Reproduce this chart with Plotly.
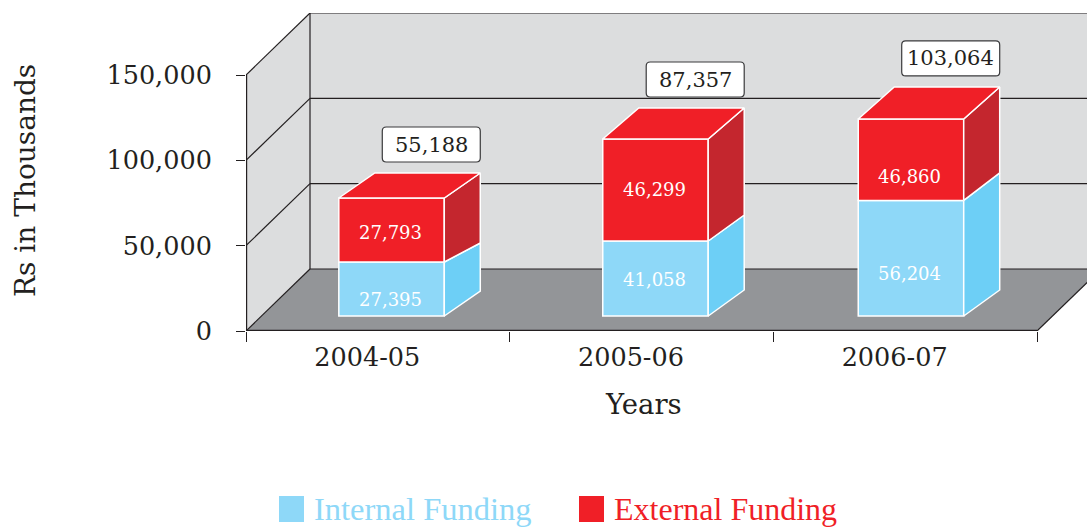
import plotly.graph_objects as go

years = ["2004-05", "2005-06", "2006-07"]
internal_labels = ["27,395", "41,058", "56,204"]
external_labels = ["27,793", "46,299", "46,860"]
total_labels = ["55,188", "87,357", "103,064"]

# segment heights as drawn against the axis (the artwork is not quite to scale)
internal_drawn = [31640, 43945, 67700]
external_drawn = [37500, 59770, 47750]

# how far the back edge of each box rises above its front edge
top_rise = [14650, 18160, 18750]
split_rise = [11130, 15240, 16110]
base_rise = [14650, 15240, 15240]

y_ticks = [0, 50000, 100000, 150000]

LIGHT, LIGHT_SIDE = "#8ed8f8", "#6dcff6"
RED, RED_SIDE = "#f01f27", "#c4262e"
WALL, FLOOR, INK = "#dcddde", "#939598", "#231f20"
SERIF = "DejaVu Serif"

# 1 category = 263.67 px, 150,000 = 256 px
UNIT_X = 263.67
UNIT_Y = 150000 / 256
X_MAX = 841 / UNIT_X
Y_MAX = 318 * UNIT_Y
BAR_BASE = 15 * UNIT_Y
BAR_X = [0.552, 1.553, 2.522]
BAR_W = 0.40
BOX_DX = 36 / UNIT_X
WALL_DX = 64 / UNIT_X
WALL_DY = 62 * UNIT_Y
N_CATS = 3

# label heights above the box base, px
EXTERNAL_LABEL_UP = [84, 127, 140]
INTERNAL_LABEL_UP = [17, 37, 43]


def poly(points):
    return "M " + " L ".join(f"{x},{y}" for x, y in points) + " Z"


def face(xs, ys, color):
    return go.Scatter(x=xs + xs[:1], y=ys + ys[:1], mode="lines", fill="toself",
                      fillcolor=color, line=dict(color="white", width=1.5),
                      hoverinfo="skip", showlegend=False)


def rounded_box(x0, x1, y0, y1, r=4):
    rx, ry = r / UNIT_X, r * UNIT_Y
    return (f"M {x0 + rx},{y0} L {x1 - rx},{y0} Q {x1},{y0} {x1},{y0 + ry} "
            f"L {x1},{y1 - ry} Q {x1},{y1} {x1 - rx},{y1} L {x0 + rx},{y1} "
            f"Q {x0},{y1} {x0},{y1 - ry} L {x0},{y0 + ry} Q {x0},{y0} {x0 + rx},{y0} Z")


def page_x(px):
    return (px - 246) / 841


def page_y(px):
    return (331 - px) / 318


fig = go.Figure()

# walls and floor
shapes = [
    dict(type="path", path=poly([(0, 0), (WALL_DX, WALL_DY), (WALL_DX, 150000 + WALL_DY), (0, 150000)]),
         fillcolor=WALL, line=dict(width=0), layer="below"),
    dict(type="rect", x0=WALL_DX, x1=X_MAX, y0=WALL_DY, y1=150000 + WALL_DY,
         fillcolor=WALL, line=dict(width=0), layer="below"),
    dict(type="path", path=poly([(0, 0), (WALL_DX, WALL_DY), (N_CATS + WALL_DX, WALL_DY), (N_CATS, 0)]),
         fillcolor=FLOOR, line=dict(width=0), layer="below"),
]
for t in y_ticks:
    shapes.append(dict(type="line", x0=0, y0=t, x1=WALL_DX, y1=t + WALL_DY,
                       line=dict(color=INK, width=1.2), layer="below"))
    shapes.append(dict(type="line", x0=WALL_DX, y0=t + WALL_DY, x1=X_MAX, y1=t + WALL_DY,
                       line=dict(color=INK, width=1.2), layer="below"))
shapes.append(dict(type="line", x0=WALL_DX, y0=WALL_DY, x1=WALL_DX, y1=150000 + WALL_DY,
                   line=dict(color=INK, width=1.2), layer="below"))
# these two sit on the plot edge and lose half their width to clipping
shapes.append(dict(type="line", x0=0, y0=0, x1=0, y1=150000,
                   line=dict(color=INK, width=2.4), layer="below"))
shapes.append(dict(type="line", x0=0, y0=0, x1=N_CATS, y1=0,
                   line=dict(color=INK, width=2.6), layer="below"))
shapes.append(dict(type="line", x0=N_CATS, y0=0, x1=N_CATS + WALL_DX, y1=WALL_DY,
                   line=dict(color=INK, width=1.2), layer="below"))

# front faces
fig.add_trace(go.Bar(x=BAR_X, y=internal_drawn, base=BAR_BASE, width=BAR_W,
                     name="Internal Funding", marker=dict(color=LIGHT, line=dict(color="white", width=1.5)),
                     hoverinfo="skip", showlegend=False))
fig.add_trace(go.Bar(x=BAR_X, y=external_drawn, base=[BAR_BASE + v for v in internal_drawn], width=BAR_W,
                     name="External Funding", marker=dict(color=RED, line=dict(color="white", width=1.5)),
                     hoverinfo="skip", showlegend=False))

annotations = []
for i, x in enumerate(BAR_X):
    left, right = x - BAR_W / 2, x + BAR_W / 2
    split = BAR_BASE + internal_drawn[i]
    top = split + external_drawn[i]
    back_base = BAR_BASE + base_rise[i]
    back_split = split + split_rise[i]
    back_top = top + top_rise[i]
    # side and top faces
    fig.add_trace(face([right, right + BOX_DX, right + BOX_DX, right],
                       [BAR_BASE, back_base, back_split, split], LIGHT_SIDE))
    fig.add_trace(face([right, right + BOX_DX, right + BOX_DX, right],
                       [split, back_split, back_top, top], RED_SIDE))
    fig.add_trace(face([left, left + BOX_DX, right + BOX_DX, right],
                       [top, back_top, back_top, top], RED))

    # total call-out sits just above the back corner of the box
    box_y0 = back_top + 11 * UNIT_Y
    box_y1 = box_y0 + 35 * UNIT_Y
    box_x1 = right + BOX_DX
    box_x0 = box_x1 - 98 / UNIT_X
    shapes.append(dict(type="path", path=rounded_box(box_x0, box_x1, box_y0, box_y1),
                       fillcolor="white", line=dict(color="#3a3a3c", width=1.2), layer="above"))
    annotations.append(dict(x=(box_x0 + box_x1) / 2, y=(box_y0 + box_y1) / 2, text=total_labels[i],
                            showarrow=False, font=dict(family=SERIF, size=21, color=INK)))

    # values on the front faces
    annotations.append(dict(x=x - 1 / UNIT_X, y=BAR_BASE + EXTERNAL_LABEL_UP[i] * UNIT_Y, text=external_labels[i],
                            showarrow=False, font=dict(family=SERIF, size=18, color="white")))
    annotations.append(dict(x=x - 1 / UNIT_X, y=BAR_BASE + INTERNAL_LABEL_UP[i] * UNIT_Y, text=internal_labels[i],
                            showarrow=False, font=dict(family=SERIF, size=18, color="white")))

# axis titles and legend are placed by hand to match the artwork
annotations += [
    dict(xref="paper", yref="paper", x=page_x(643), y=page_y(404), xanchor="center", yanchor="middle",
         text="Years", showarrow=False, font=dict(family=SERIF, size=27.5, color=INK)),
    dict(xref="paper", yref="paper", x=page_x(25), y=page_y(181), xanchor="center", yanchor="middle",
         text="Rs in Thousands", showarrow=False, textangle=-90, font=dict(family=SERIF, size=28, color=INK)),
    dict(xref="paper", yref="paper", x=page_x(312), y=page_y(509), xanchor="left", yanchor="middle",
         text="Internal Funding", showarrow=False, font=dict(family="Liberation Serif", size=32.5, color=LIGHT)),
    dict(xref="paper", yref="paper", x=page_x(612), y=page_y(509), xanchor="left", yanchor="middle",
         text="External Funding", showarrow=False, font=dict(family="Liberation Serif", size=32, color=RED)),
]
for x0, color in [(279, LIGHT), (579, RED)]:
    shapes.append(dict(type="rect", xref="paper", yref="paper", x0=page_x(x0), x1=page_x(x0 + 25),
                       y0=page_y(522), y1=page_y(496), fillcolor=color, line=dict(width=0)))

fig.update_layout(
    width=1087, height=527, paper_bgcolor="white", plot_bgcolor="white",
    margin=dict(l=246, r=0, t=13, b=196), barmode="overlay", showlegend=False,
    font=dict(family=SERIF, color=INK),
    shapes=shapes, annotations=annotations,
    xaxis=dict(range=[0, X_MAX], tickvals=[i + 0.46 for i in range(N_CATS)], ticktext=years,
               ticks="", showgrid=False, zeroline=False, showline=False,
               tickfont=dict(family=SERIF, size=25.5, color=INK), ticklabelstandoff=8,
               minor=dict(tickvals=list(range(N_CATS + 1)), ticks="outside", ticklen=10,
                          tickcolor=INK, tickwidth=1.2, showgrid=False)),
    yaxis=dict(range=[0, Y_MAX], tickvals=y_ticks, tickformat=",", ticks="outside", ticklen=9,
               tickcolor=INK, tickwidth=1.2, showgrid=False, zeroline=False, showline=False,
               tickfont=dict(family=SERIF, size=25.5, color=INK), ticklabelstandoff=19),
)

# the page's default body margin would push the fixed-size figure off the window
fig.write_html("out.html", config=dict(displayModeBar=False),
               post_script="document.body.style.margin = '0';")
